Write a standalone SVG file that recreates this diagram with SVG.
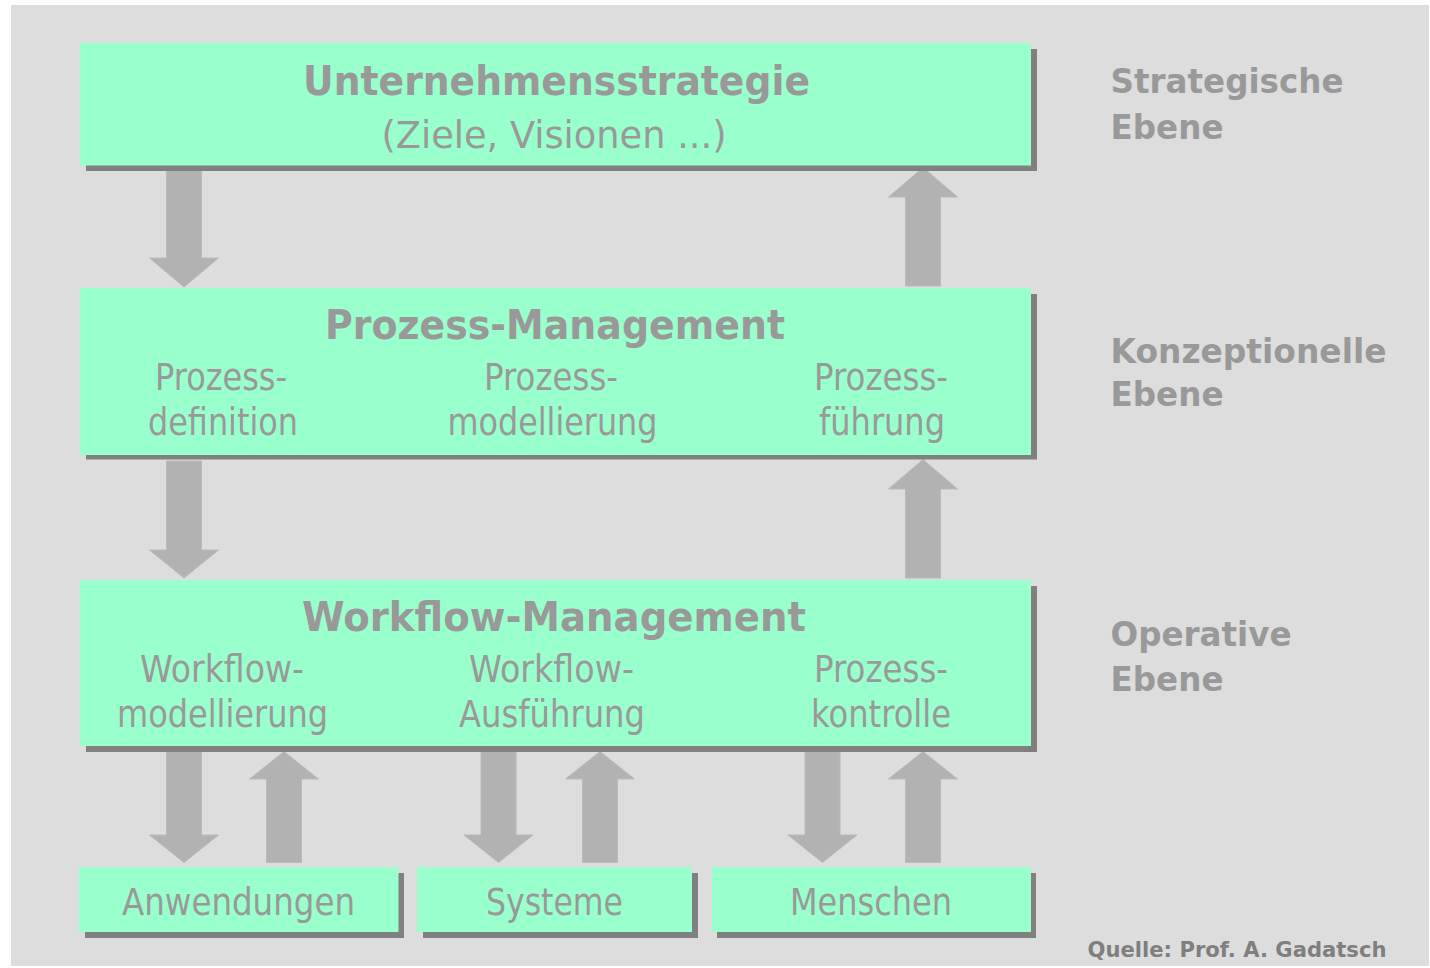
<svg xmlns="http://www.w3.org/2000/svg" width="1430" height="968" viewBox="0 0 1430 968">
<style>
.bg{fill:#dddddd}
.box{fill:#99ffcc}
.sh{fill:#808080}
.arr{fill:#b2b2b2;stroke:#bababa;stroke-width:1}
.t{font-family:"DejaVu Sans","Liberation Sans",sans-serif;fill:#999999;text-anchor:middle}
.b{font-weight:bold;font-size:41px}
.r{font-size:37px}
.lvl{font-family:"DejaVu Sans","Liberation Sans",sans-serif;fill:#999999;font-weight:bold;font-size:33px}
.src{font-family:"DejaVu Sans","Liberation Sans",sans-serif;fill:#7f7f7f;font-weight:bold;font-size:22px}
</style>
<rect x="0" y="0" width="1430" height="968" fill="#ffffff"/>
<rect class="bg" x="11" y="5" width="1418" height="961"/>
<g id="connectors">
<path class="arr" d="M166.5 169H201.5V258H218.5L184 287L149.5 258H166.5Z"/>
<path class="arr" d="M905.5 286V197H888.5L923 167.5L957.5 197H940.5V286Z"/>
<path class="arr" d="M166.5 461H201.5V550H218.5L184 578L149.5 550H166.5Z"/>
<path class="arr" d="M905.5 578V489H888.5L923 459.5L957.5 489H940.5V578Z"/>
<path class="arr" d="M166.5 751H201.5V835H218.5L184 862.5L149.5 835H166.5Z"/>
<path class="arr" d="M266.5 862.5V779H249.5L284 751.5L318.5 779H301.5V862.5Z"/>
<path class="arr" d="M481 751H516V835H533L498.5 862.5L464 835H481Z"/>
<path class="arr" d="M582.5 862.5V779H565.5L600 751.5L634.5 779H617.5V862.5Z"/>
<path class="arr" d="M805 751H840V835H857L822.5 862.5L788 835H805Z"/>
<path class="arr" d="M905.5 862.5V779H888.5L923 751.5L957.5 779H940.5V862.5Z"/>
</g>
<g id="unternehmensstrategie">
<rect class="sh" x="86" y="49" width="951" height="122"/>
<rect class="box" x="80" y="43" width="951" height="122.5"/>
<text class="t b" x="556.5" y="95" textLength="507" lengthAdjust="spacingAndGlyphs">Unternehmensstrategie</text>
<text class="t r" x="554" y="148" textLength="345" lengthAdjust="spacingAndGlyphs">(Ziele, Visionen ...)</text>
</g>
<g id="prozess-management">
<rect class="sh" x="86" y="294" width="951" height="165.5"/>
<rect class="box" x="80" y="288" width="951" height="167"/>
<text class="t b" x="555" y="339" textLength="460" lengthAdjust="spacingAndGlyphs">Prozess-Management</text>
<text class="t r" x="221" y="390" textLength="132" lengthAdjust="spacingAndGlyphs">Prozess-</text>
<text class="t r" x="223" y="435" textLength="150" lengthAdjust="spacingAndGlyphs">definition</text>
<text class="t r" x="551" y="390" textLength="134" lengthAdjust="spacingAndGlyphs">Prozess-</text>
<text class="t r" x="552.5" y="435" textLength="210" lengthAdjust="spacingAndGlyphs">modellierung</text>
<text class="t r" x="881" y="390" textLength="134" lengthAdjust="spacingAndGlyphs">Prozess-</text>
<text class="t r" x="882" y="435" textLength="126" lengthAdjust="spacingAndGlyphs">führung</text>
</g>
<g id="workflow-management">
<rect class="sh" x="86" y="586" width="951" height="166"/>
<rect class="box" x="80" y="580" width="951" height="166"/>
<text class="t b" x="554" y="631" textLength="504" lengthAdjust="spacingAndGlyphs">Workflow-Management</text>
<text class="t r" x="222" y="682" textLength="164" lengthAdjust="spacingAndGlyphs">Workflow-</text>
<text class="t r" x="222.5" y="727" textLength="211" lengthAdjust="spacingAndGlyphs">modellierung</text>
<text class="t r" x="551.5" y="682" textLength="165" lengthAdjust="spacingAndGlyphs">Workflow-</text>
<text class="t r" x="552" y="727" textLength="186" lengthAdjust="spacingAndGlyphs">Ausführung</text>
<text class="t r" x="881" y="682" textLength="134" lengthAdjust="spacingAndGlyphs">Prozess-</text>
<text class="t r" x="881" y="727" textLength="140" lengthAdjust="spacingAndGlyphs">kontrolle</text>
</g>
<g id="anwendungen">
<rect class="sh" x="85" y="873" width="319" height="65"/>
<rect class="box" x="79" y="867" width="319.5" height="65"/>
<text class="t r" x="238.5" y="915" textLength="233" lengthAdjust="spacingAndGlyphs">Anwendungen</text>
</g>
<g id="systeme">
<rect class="sh" x="423" y="873" width="275" height="65"/>
<rect class="box" x="417" y="867" width="275" height="65"/>
<text class="t r" x="554.5" y="915" textLength="137" lengthAdjust="spacingAndGlyphs">Systeme</text>
</g>
<g id="menschen">
<rect class="sh" x="717" y="873" width="319" height="65"/>
<rect class="box" x="712" y="867" width="319" height="65"/>
<text class="t r" x="871" y="915" textLength="162" lengthAdjust="spacingAndGlyphs">Menschen</text>
</g>
<g id="ebenen">
<text class="lvl" x="1110.5" y="93" textLength="233" lengthAdjust="spacingAndGlyphs">Strategische</text>
<text class="lvl" x="1110.5" y="139" textLength="113" lengthAdjust="spacingAndGlyphs">Ebene</text>
<text class="lvl" x="1110.5" y="362.5" textLength="276" lengthAdjust="spacingAndGlyphs">Konzeptionelle</text>
<text class="lvl" x="1110.5" y="406" textLength="113" lengthAdjust="spacingAndGlyphs">Ebene</text>
<text class="lvl" x="1110.5" y="646" textLength="181" lengthAdjust="spacingAndGlyphs">Operative</text>
<text class="lvl" x="1110.5" y="691" textLength="113" lengthAdjust="spacingAndGlyphs">Ebene</text>
</g>
<text class="src" x="1087.5" y="956.5" textLength="299" lengthAdjust="spacingAndGlyphs">Quelle: Prof. A. Gadatsch</text>
</svg>
